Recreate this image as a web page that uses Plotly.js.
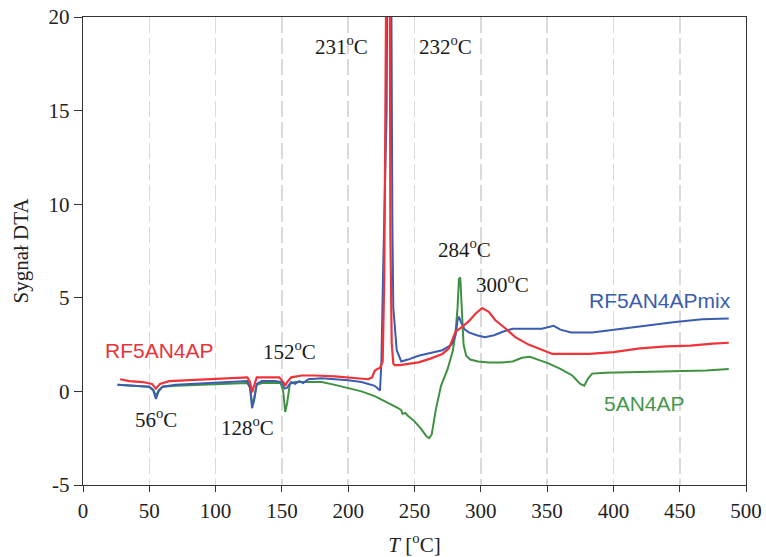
<!DOCTYPE html>
<html>
<head>
<meta charset="utf-8">
<script src="https://cdn.plot.ly/plotly-3.0.1.min.js"></script>
<style>html,body{margin:0;padding:0;background:#fff;}#chart{width:766px;height:557px;}</style>
</head>
<body>
<div id="chart"></div>
<script>
// 5AN4AP (green)
const tGreen = [26,35,45,50,53,55,57,60,70,85,
  100,115,124,126,127.5,129,131,135,145,149,
  151,152.5,154,156,160,170,180,190,200,210,
  220,230,238,240,241,243,245,250,255,259,
  261,263,266,270,275,279,281,282.5,283.5,284.5,
  285.5,287,289,292,298,306,316,324,331,337,
  343,351,360,369,375,378,381,384,394,410,
  432,450,470,487];
const sGreen = [0.35,0.3,0.25,0.25,0.1,-0.25,0.05,0.25,0.3,0.35,
  0.38,0.42,0.45,0.2,-0.65,-0.4,0.35,0.45,0.45,0.45,
  0.0,-1.1,-0.6,0.4,0.5,0.52,0.5,0.35,0.18,0.0,
  -0.25,-0.6,-0.9,-1.0,-1.2,-1.15,-1.3,-1.6,-2.0,-2.4,
  -2.5,-2.3,-1.0,0.3,1.2,2.2,3.2,4.5,6.0,6.1,
  4.5,2.5,1.9,1.7,1.6,1.55,1.55,1.6,1.8,1.85,
  1.7,1.5,1.2,0.85,0.4,0.3,0.7,0.95,1.0,1.02,
  1.07,1.1,1.12,1.2];

// RF5AN4APmix (blue)
const tBlue = [26,35,45,50,53,55,57,60,70,85,
  100,115,124,126,127.5,129,131,135,145,150,
  152,154,157,160,163,166,170,180,190,200,
  210,216,220,224,225,226.5,229,230,232,233.3,
  234,236.6,240,245,253,262,271,278,
  281,282.5,283.5,285,288,291,297,303,310,317,
  324,335,346,352,355,360,368,384,407,425,
  445,467,487];
const sBlue = [0.35,0.3,0.25,0.25,0.05,-0.4,0.0,0.25,0.35,0.4,
  0.45,0.5,0.55,0.2,-0.9,-0.5,0.4,0.55,0.55,0.5,
  0.15,0.2,0.5,0.4,0.55,0.45,0.65,0.7,0.65,0.6,
  0.5,0.4,0.3,0.05,1.5,7,15,30,30,9,
  4.5,2.2,1.6,1.7,1.9,2.05,2.2,2.5,
  3.0,3.8,4.0,3.7,3.3,3.15,3.0,2.9,3.0,3.2,
  3.35,3.35,3.35,3.45,3.5,3.3,3.15,3.15,3.35,3.5,
  3.7,3.85,3.9];

// RF5AN4AP (red)
const tRed = [28,35,45,52,55,58,65,80,100,115,
  124,126,127.5,129,131,140,148,151,152.5,154,
  157,165,175,190,200,210,215,218,220,222,
  224,226,227.2,228.5,229.5,231,231.8,232.8,234,235,
  239,245,253,262,271,276,281,286,291,296,
  301,306,311,318,326,336,346,354,365,382,
  400,420,440,458,475,487];
const sRed = [0.65,0.55,0.5,0.4,0.15,0.4,0.55,0.6,0.65,0.7,
  0.75,0.5,-0.05,0.3,0.75,0.75,0.75,0.5,0.3,0.5,
  0.75,0.85,0.85,0.8,0.75,0.7,0.65,0.75,1.1,1.2,
  1.25,1.6,6,20,35,35,8.5,2.6,1.5,1.4,
  1.4,1.45,1.55,1.75,2.0,2.3,3.2,3.45,3.75,4.15,
  4.45,4.25,3.8,3.4,2.9,2.5,2.2,2.0,2.0,2.0,
  2.1,2.3,2.4,2.45,2.55,2.6];

const xTicks = [0,50,100,150,200,250,300,350,400,450,500];
const yTicks = [-5,0,5,10,15,20];

const peakLabels = ["231<sup>o</sup>C","232<sup>o</sup>C","284<sup>o</sup>C","300<sup>o</sup>C","152<sup>o</sup>C","56<sup>o</sup>C","128<sup>o</sup>C"];
const peakX = [195.3,273,288,316.7,155.4,55,124.4];
const peakY = [18.5,18.5,7.65,5.78,2.2,-1.43,-1.86];

const seriesNames = ["RF5AN4AP","RF5AN4APmix","5AN4AP"];
const nameX = [58,435,423.8];
const nameY = [2.16,4.83,-0.62];
const nameColors = ["#e9333a","#3b5dae","#47974a"];

const serif = "Liberation Serif, Times New Roman, serif";
const sans = "Liberation Sans, Arial, sans-serif";

const traces = [
  {x: tGreen, y: sGreen, mode: "lines", name: "5AN4AP", line: {color: "#3d9140", width: 2}},
  {x: tBlue, y: sBlue, mode: "lines", name: "RF5AN4APmix", line: {color: "#3a5db2", width: 2}},
  {x: tRed, y: sRed, mode: "lines", name: "RF5AN4AP", line: {color: "#ef3439", width: 2.2}}
];

const annotations = [];
peakLabels.forEach((t, i) => annotations.push({
  x: peakX[i], y: peakY[i], xref: "x", yref: "y", text: t, showarrow: false,
  font: {family: serif, size: 21, color: "#1a1a1a"}
}));
seriesNames.forEach((t, i) => annotations.push({
  x: nameX[i], y: nameY[i], xref: "x", yref: "y", text: t, showarrow: false,
  font: {family: sans, size: 21, color: nameColors[i]}
}));

const layout = {
  width: 766, height: 557,
  margin: {l: 83, r: 20, t: 17, b: 72},
  paper_bgcolor: "#fff", plot_bgcolor: "#fff",
  showlegend: false,
  xaxis: {
    range: [0, 500], tickvals: xTicks, ticktext: xTicks.map(String),
    showgrid: true, gridcolor: "#dadada", gridwidth: 1.6, griddash: "16px,5px",
    zeroline: false, showline: true, mirror: true, linecolor: "#333", linewidth: 1.3,
    ticks: "outside", ticklen: 6, tickcolor: "#333",
    tickfont: {family: serif, size: 21, color: "#222"},
    title: {text: "<i>T</i> [<sup>o</sup>C]", font: {family: serif, size: 21, color: "#222"}, standoff: 18}
  },
  yaxis: {
    range: [-5, 20], tickvals: yTicks, ticktext: yTicks.map(String),
    showgrid: false, zeroline: false, showline: true, mirror: true, linecolor: "#333", linewidth: 1.3,
    ticks: "outside", ticklen: 8, tickcolor: "#333",
    tickfont: {family: serif, size: 21, color: "#222"},
    title: {text: "Sygnał DTA", font: {family: serif, size: 21, color: "#222"}, standoff: 14}
  },
  annotations: annotations
};

Plotly.newPlot("chart", traces, layout, {displayModeBar: false, staticPlot: true});
</script>
</body>
</html>
